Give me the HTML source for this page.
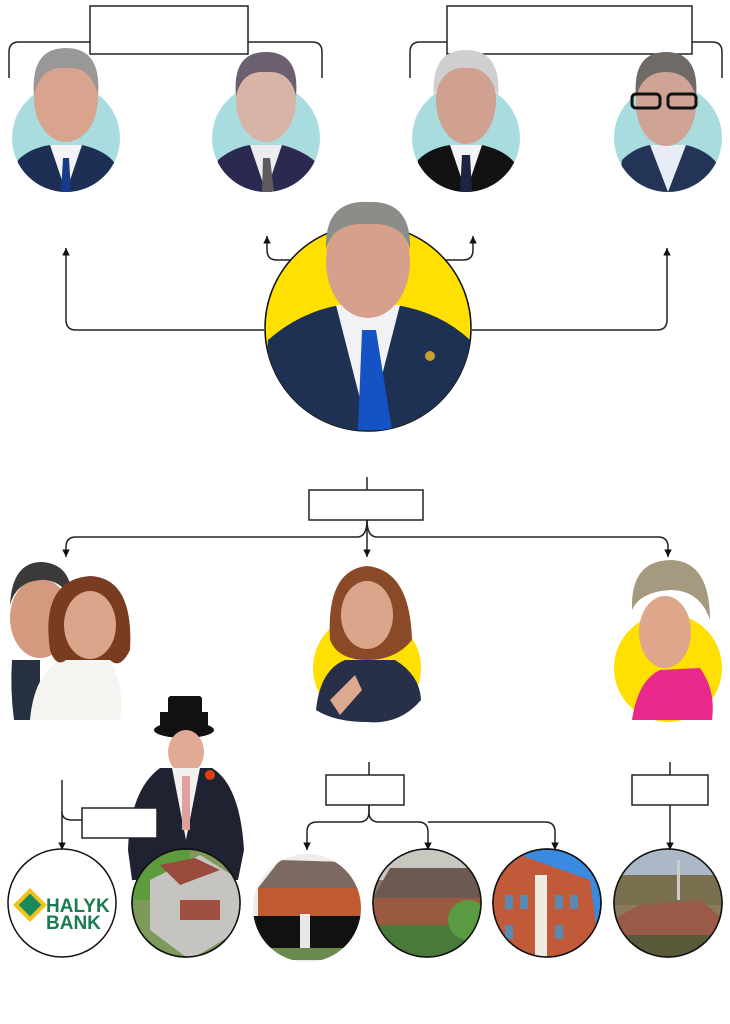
<!DOCTYPE html>
<html><head><meta charset="utf-8"><style>
html,body{margin:0;padding:0;background:#fff;}
svg{display:block;}
</style></head><body>
<svg width="730" height="1024" viewBox="0 0 730 1024" xmlns="http://www.w3.org/2000/svg" font-family="Liberation Sans, sans-serif">
<defs>
<marker id="a" viewBox="0 0 10 10" refX="10" refY="5" markerWidth="5" markerHeight="5" orient="auto"><path d="M0,0 L10,5 L0,10 z" fill="#111"/></marker>
<clipPath id="c1"><circle cx="66" cy="138" r="54"/></clipPath>
<clipPath id="c2"><circle cx="266" cy="138" r="54"/></clipPath>
<clipPath id="c3"><circle cx="466" cy="138" r="54"/></clipPath>
<clipPath id="c4"><circle cx="668" cy="138" r="54"/></clipPath>
<clipPath id="cm"><circle cx="368" cy="328" r="103"/></clipPath>
<clipPath id="b1"><circle cx="186" cy="903" r="54"/></clipPath>
<clipPath id="b2"><circle cx="307" cy="908" r="54"/></clipPath>
<clipPath id="b3"><circle cx="427" cy="903" r="54"/></clipPath>
<clipPath id="b4"><circle cx="547" cy="903" r="54"/></clipPath>
<clipPath id="b5"><circle cx="668" cy="903" r="54"/></clipPath>
</defs>
<g fill="none" stroke="#222" stroke-width="1.5">
<path d="M9,78 V52 Q9,42 19,42 H90 M248,42 H312 Q322,42 322,52 V78"/>
<rect x="90" y="6" width="158" height="48" fill="#fff"/>
<path d="M410,78 V52 Q410,42 420,42 H447 M692,42 H712 Q722,42 722,52 V78"/>
<rect x="447" y="6" width="245" height="48" fill="#fff"/>
<path d="M264,330 H76 Q66,330 66,320 V248" marker-end="url(#a)"/>
<path d="M472,330 H657 Q667,330 667,320 V248" marker-end="url(#a)"/>
<path d="M292,260 H277 Q267,260 267,250 V236" marker-end="url(#a)"/>
<path d="M445,260 H463 Q473,260 473,250 V236" marker-end="url(#a)"/>
<path d="M367,477 V490"/>
<rect x="309" y="490" width="114" height="30" fill="#fff"/>
<path d="M367,520 V557" marker-end="url(#a)"/>
<path d="M367,520 Q367,537 357,537 H76 Q66,537 66,547 V557" marker-end="url(#a)"/>
<path d="M367,520 Q367,537 377,537 H658 Q668,537 668,547 V557" marker-end="url(#a)"/>
</g>
<g>
<circle cx="66" cy="138" r="54" fill="#a8dcdf"/>
<circle cx="266" cy="138" r="54" fill="#a8dcdf"/>
<circle cx="466" cy="138" r="54" fill="#a8dcdf"/>
<circle cx="668" cy="138" r="54" fill="#a8dcdf"/>
<g clip-path="url(#c1)"><path d="M14,192 L18,160 Q30,148 50,145 L82,145 Q104,150 114,162 L118,192z" fill="#1e2f55"/><path d="M50,145 L66,192 L82,145z" fill="#f4f4f6"/><path d="M63,158 L69,158 L71,192 L61,192z" fill="#1a3a8a"/></g>
<ellipse cx="66" cy="98" rx="32" ry="44" fill="#d9a48e"/><path d="M34,96 Q30,48 66,48 Q102,48 98,96 Q92,66 66,68 Q40,66 34,96z" fill="#9a9896"/>
<g clip-path="url(#c2)"><path d="M214,192 L218,160 Q232,148 250,145 L282,145 Q302,150 316,162 L320,192z" fill="#2c2950"/><path d="M250,145 L266,192 L282,145z" fill="#ecebf0"/><path d="M263,158 L270,158 L274,192 L262,192z" fill="#5f5a60"/></g>
<ellipse cx="266" cy="100" rx="30" ry="42" fill="#d8b4a6"/><path d="M236,96 Q232,52 266,52 Q300,52 296,96 Q290,70 266,72 Q242,70 236,96z" fill="#6a6070"/>
<g clip-path="url(#c3)"><path d="M414,192 L418,160 Q430,148 450,145 L482,145 Q504,150 514,162 L518,192z" fill="#121212"/><path d="M450,145 L466,192 L482,145z" fill="#f4f4f4"/><path d="M462,155 L470,155 L472,192 L460,192z" fill="#1c2440"/></g>
<ellipse cx="466" cy="100" rx="30" ry="44" fill="#d0a090"/><path d="M434,98 Q430,50 466,50 Q502,50 498,98 Q490,66 466,68 Q442,66 434,98z" fill="#cfcfcf"/>
<g clip-path="url(#c4)"><path d="M618,192 L622,160 Q634,148 650,145 L686,145 Q706,150 716,162 L720,192z" fill="#243456"/><path d="M650,145 L668,192 L686,145z" fill="#e8ecf4"/></g>
<ellipse cx="666" cy="104" rx="30" ry="42" fill="#cfa494"/><path d="M636,98 Q632,52 666,52 Q700,52 696,98 Q690,72 666,72 Q642,72 636,98z" fill="#6f6a66"/>
<g fill="none" stroke="#111" stroke-width="3"><rect x="632" y="94" width="28" height="14" rx="4"/><rect x="668" y="94" width="28" height="14" rx="4"/></g>
</g>
<circle cx="368" cy="328" r="103" fill="#ffe000" stroke="#111" stroke-width="1.5"/>
<g clip-path="url(#cm)"><path d="M262,440 L268,340 Q300,312 340,305 L396,305 Q440,312 470,340 L476,440z" fill="#1e3152"/><path d="M336,305 L368,430 L400,305z" fill="#f2f2f4"/><path d="M362,330 L376,330 L392,430 L358,430z" fill="#1552c4"/><circle cx="430" cy="356" r="5" fill="#c9a030"/></g>
<ellipse cx="368" cy="262" rx="42" ry="56" fill="#d6a08c"/><path d="M326,250 Q324,200 368,202 Q412,200 410,250 Q404,222 368,224 Q332,222 326,250z" fill="#8a8d88"/>
<path d="M14,720 Q10,690 12,660 L40,660 L40,720z" fill="#253040"/>
<ellipse cx="40" cy="618" rx="30" ry="40" fill="#d49a80"/><path d="M10,605 Q12,562 42,562 Q72,564 72,600 Q60,578 40,580 Q16,582 10,605z" fill="#3a3a3a"/>
<path d="M30,720 Q34,675 60,660 L110,660 Q126,690 120,720z" fill="#f6f4f0"/>
<path d="M50,650 Q40,580 90,576 Q134,578 130,650 Q120,670 110,660 L66,660 Q56,668 50,650z" fill="#7a3c20"/>
<ellipse cx="90" cy="625" rx="26" ry="34" fill="#dba58c"/>
<circle cx="367" cy="668" r="54" fill="#ffe000"/>
<path d="M316,710 Q320,670 345,660 L395,660 Q420,675 421,700 Q400,725 367,722 Q335,722 316,710z" fill="#273048"/>
<path d="M330,640 Q326,570 367,566 Q410,570 412,640 Q396,660 367,660 Q338,660 330,640z" fill="#8a4a28"/>
<ellipse cx="367" cy="615" rx="26" ry="34" fill="#d9a68c"/>
<path d="M330,700 L355,675 L362,690 L340,715z" fill="#dca88e"/>
<circle cx="668" cy="668" r="54" fill="#ffe000"/>
<path d="M632,720 Q638,680 660,670 L700,668 Q716,690 712,720z" fill="#e8288a"/>
<path d="M632,610 Q630,560 672,560 Q710,562 710,620 Q700,590 670,590 Q640,592 632,610z" fill="#a59a80"/>
<ellipse cx="665" cy="632" rx="26" ry="36" fill="#dea68a"/>
<g fill="none" stroke="#222" stroke-width="1.5">
<path d="M62,780 V850" marker-end="url(#a)"/>
<path d="M62,812 Q62,820 72,820 H82"/>
<path d="M157,820 H176 Q185,820 185,830 V850" marker-end="url(#a)"/>
<path d="M369,762 V775"/>
<path d="M369,805 V812 Q369,822 359,822 H317 Q307,822 307,832 V850" marker-end="url(#a)"/>
<path d="M369,805 V812 Q369,822 379,822 H418 Q428,822 428,832 V850" marker-end="url(#a)"/>
<path d="M428,822 H545 Q555,822 555,832 V850" marker-end="url(#a)"/>
<path d="M670,762 V775"/>
<path d="M670,805 V850" marker-end="url(#a)"/>
</g>
<rect x="160" y="712" width="48" height="16" fill="#111"/><ellipse cx="184" cy="730" rx="30" ry="8" fill="#111"/><rect x="168" y="696" width="34" height="30" rx="3" fill="#111"/>
<ellipse cx="186" cy="752" rx="18" ry="22" fill="#e0aa94"/>
<path d="M128,850 Q130,790 160,768 L212,768 Q240,785 244,850 L238,880 L132,880z" fill="#1f2230"/>
<path d="M172,768 L186,840 L200,768z" fill="#f3f0f0"/><path d="M182,776 L190,776 L190,830 L182,830z" fill="#e0a0a0"/>
<circle cx="210" cy="775" r="5" fill="#e04010"/>
<rect x="82" y="808" width="75" height="30" fill="#fff" stroke="#222" stroke-width="1.5"/>
<rect x="326" y="775" width="78" height="30" fill="#fff" stroke="#222" stroke-width="1.5"/>
<rect x="632" y="775" width="76" height="30" fill="#fff" stroke="#222" stroke-width="1.5"/>
<circle cx="62" cy="903" r="54" fill="#fff" stroke="#111" stroke-width="1.5"/>
<g transform="translate(30,905) rotate(45)"><rect x="-12" y="-12" width="24" height="24" fill="#f2c21a"/><rect x="-8" y="-8" width="16" height="16" fill="#1a8a5a"/></g>
<text x="46" y="912" font-size="19" font-weight="bold" fill="#1a7a50">HALYK</text>
<text x="46" y="929" font-size="19" font-weight="bold" fill="#1a7a50">BANK</text>
<circle cx="186" cy="903" r="54" fill="#7e9a5a" stroke="#111" stroke-width="1.5"/>
<g clip-path="url(#b1)"><rect x="130" y="850" width="60" height="50" fill="#5e9a3e"/><path d="M150,880 L200,855 L240,880 L240,930 L190,960 L150,930z" fill="#c6c4c0"/><path d="M160,865 L195,858 L220,870 L180,885z" fill="#9a4a3a"/><rect x="180" y="900" width="40" height="20" fill="#a05040"/></g>
<circle cx="186" cy="903" r="54" fill="none" stroke="#111" stroke-width="1.5"/>
<g clip-path="url(#b2)"><rect x="250" y="850" width="120" height="120" fill="#f0ece8"/><path d="M258,888 L280,860 L345,862 L362,890z" fill="#7c6a60"/><rect x="258" y="888" width="104" height="30" fill="#c05a30"/><rect x="252" y="916" width="110" height="32" fill="#111"/><rect x="300" y="914" width="10" height="36" fill="#e8e8e8"/><rect x="250" y="948" width="120" height="12" fill="#6a8a50"/></g>
<circle cx="427" cy="903" r="54" fill="#8a7a6a" stroke="#111" stroke-width="1.5"/>
<g clip-path="url(#b3)"><rect x="370" y="850" width="115" height="30" fill="#c8c8c0"/><path d="M372,900 L390,868 L470,868 L485,900z" fill="#6c5a52"/><rect x="372" y="898" width="112" height="40" fill="#9a5a40"/><rect x="372" y="925" width="112" height="35" fill="#4a7a3a"/><circle cx="468" cy="920" r="20" fill="#5a9a40"/></g>
<circle cx="427" cy="903" r="54" fill="none" stroke="#111" stroke-width="1.5"/>
<circle cx="547" cy="903" r="54" fill="#3a8ae0" stroke="#111" stroke-width="1.5"/>
<g clip-path="url(#b4)"><path d="M493,880 L520,855 L590,880 L601,960 L493,960z" fill="#c05a38"/><rect x="535" y="875" width="12" height="85" fill="#eeeae0"/><rect x="505" y="895" width="8" height="14" fill="#5a8ab0"/><rect x="520" y="895" width="8" height="14" fill="#5a8ab0"/><rect x="555" y="895" width="8" height="14" fill="#5a8ab0"/><rect x="570" y="895" width="8" height="14" fill="#5a8ab0"/><rect x="505" y="925" width="8" height="14" fill="#5a8ab0"/><rect x="555" y="925" width="8" height="14" fill="#5a8ab0"/></g>
<circle cx="547" cy="903" r="54" fill="none" stroke="#111" stroke-width="1.5"/>
<circle cx="668" cy="903" r="54" fill="#8a7a5a" stroke="#111" stroke-width="1.5"/>
<g clip-path="url(#b5)"><rect x="612" y="848" width="112" height="30" fill="#aab8c8"/><rect x="612" y="875" width="112" height="30" fill="#7a7050"/><path d="M612,920 L640,905 L700,900 L724,920 L724,960 L612,960z" fill="#9a5a48"/><rect x="612" y="935" width="112" height="25" fill="#5a5a3a"/><rect x="677" y="860" width="3" height="40" fill="#ccc"/></g>
<circle cx="668" cy="903" r="54" fill="none" stroke="#111" stroke-width="1.5"/>
</svg>
</body></html>
